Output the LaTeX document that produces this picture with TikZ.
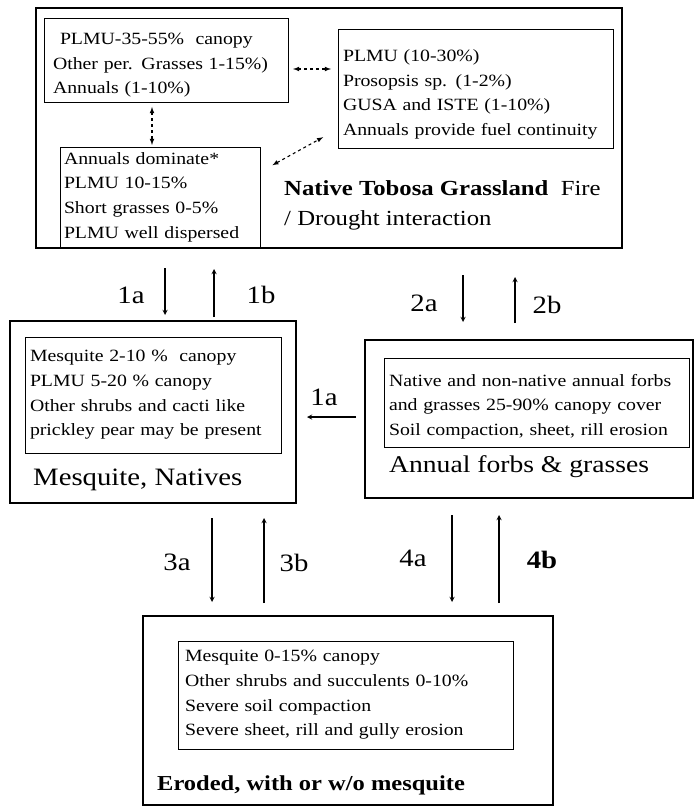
\documentclass[tikz,border=0pt]{standalone}
\usepackage{fontspec}
\setmainfont{Liberation Serif}[FakeStretch=1.15]
\usepackage{tikz}
\usetikzlibrary{positioning}
\usetikzlibrary{arrows}
\newcommand\boxfont{\fontsize{17.2}{24.6}\selectfont}

\begin{document}
\begin{tikzpicture}[x=1pt,y=-1pt,
    state/.style={draw, line width=2.6pt, anchor=north west, inner sep=0pt, outer sep=0pt},
    info/.style={draw, line width=0.9pt, anchor=north west, align=left, inner ysep=2pt, outer sep=0pt, font=\boxfont},
    lbl/.style={anchor=west, inner sep=0pt, align=left},
    tag/.style={inner sep=0pt, font=\fontsize{25}{30}\selectfont},
    trans/.style={->, >=stealth, line width=1.3pt},
    link/.style={<->, >=latex, dashed, line width=1.1pt}]
        \useasboundingbox (0,0) rectangle (696,810);
        % states
        \node[state, minimum width=586pt, minimum height=240pt] (native) at (36,8) {};
        \node[state, minimum width=286pt, minimum height=182pt] (mesq) at (10,321) {};
        \node[state, minimum width=328pt, minimum height=158pt] (annual) at (365,340) {};
        \node[state, minimum width=410pt, minimum height=189pt] (eroded) at (143,616) {};
        % phases of the grassland
        \node[info, inner xsep=9pt, text width=226pt, minimum height=84pt] (plmu) at (44,18)
            {\rule{0pt}{22pt}\hspace*{7pt}PLMU-35-55\%\ \ canopy\\Other per. Grasses 1-15\%)\\Annuals (1-10\%)};
        \node[info, inner xsep=5pt, text width=265pt, minimum height=119pt] (pros) at (338,29)
            {\rule{0pt}{24pt}PLMU (10-30\%)\\Prosopsis sp. (1-2\%)\\GUSA and ISTE (1-10\%)\\Annuals provide fuel continuity};
        \node[info, inner xsep=4pt, text width=192pt, minimum height=100pt] (ann) at (60,147)
            {Annuals dominate*\\PLMU 10-15\%\\Short grasses 0-5\%\\PLMU well dispersed};
        \node[lbl, font=\fontsize{21.5}{30}\selectfont] (nativelbl) at (284,205)
            {\textbf{Native Tobosa Grassland}\ \ Fire\\/ Drought interaction};
        \path[link]
        (plmu.east |- 0,69) edge[shorten <=5pt, shorten >=7pt] (pros.west |- 0,69)
        (plmu.south -| 152,0) edge[shorten <=5pt, shorten >=2pt] (ann.north -| 152,0)
        (ann.east |- 0,172) edge[shorten <=14pt, shorten >=17pt] (pros.west |- 0,129);
        % other states
        \node[info, inner xsep=5pt, text width=246pt, minimum height=116pt] (mesqinfo) at (25,337)
            {Mesquite 2-10 \%\ \ canopy\\PLMU 5-20 \% canopy\\Other shrubs and cacti like\\prickley pear may be present};
        \node[lbl, font=\fontsize{25}{30}\selectfont] (mesqlbl) at (33,480) {Mesquite, Natives};
        \node[info, inner xsep=5pt, text width=295pt, minimum height=89pt] (annualinfo) at (384,358)
            {\rule{0pt}{20pt}Native and non-native annual forbs\\and grasses 25-90\% canopy cover\\Soil compaction, sheet, rill erosion};
        \node[lbl, font=\fontsize{24}{30}\selectfont] (annuallbl) at (389,467) {Annual forbs \& grasses};
        \node[info, inner xsep=7pt, text width=321pt, minimum height=108pt] (erodedinfo) at (178,641)
            {Mesquite 0-15\% canopy\\Other shrubs and succulents 0-10\%\\Severe soil compaction\\Severe sheet, rill and gully erosion};
        \node[lbl, font=\fontsize{21.3}{30}\selectfont\bfseries] (erodedlbl) at (157,785) {Eroded, with or w/o mesquite};
        % transitions
        \draw[trans, shorten <=20pt, shorten >=6pt] (native.south -| 165,0) -- (mesq.north -| 165,0);
        \draw[trans, shorten <=4pt, shorten >=21pt] (mesq.north -| 214,0) -- (native.south -| 214,0);
        \draw[trans, shorten <=27pt, shorten >=18pt] (native.south -| 463,0) -- (annual.north -| 463,0);
        \draw[trans, shorten <=17pt, shorten >=29pt] (annual.north -| 515,0) -- (native.south -| 515,0);
        \draw[trans, shorten <=9pt, shorten >=11pt] (annual.west |- 0,417) -- (mesq.east |- 0,417);
        \draw[trans, shorten <=15pt, shorten >=14pt] (mesq.south -| 212,0) -- (eroded.north -| 212,0);
        \draw[trans, shorten <=13pt, shorten >=15pt] (eroded.north -| 264,0) -- (mesq.south -| 264,0);
        \draw[trans, shorten <=17pt, shorten >=14pt] (annual.south -| 452,0) -- (eroded.north -| 452,0);
        \draw[trans, shorten <=13pt, shorten >=17pt] (eroded.north -| 499,0) -- (annual.south -| 499,0);
        \node[tag] (t1a) at (131,295) {1a};
        \node[tag] (t1b) at (261,295) {1b};
        \node[tag] (t2a) at (424,303) {2a};
        \node[tag] (t2b) at (547,305) {2b};
        \node[tag] (t1c) at (324,397) {1a};
        \node[tag] (t3a) at (177,562) {3a};
        \node[tag] (t3b) at (294,563) {3b};
        \node[tag] (t4a) at (413,558) {4a};
        \node[tag, font=\fontsize{25}{30}\selectfont\bfseries] (t4b) at (542,560) {4b};
      \end{tikzpicture}
\end{document}
